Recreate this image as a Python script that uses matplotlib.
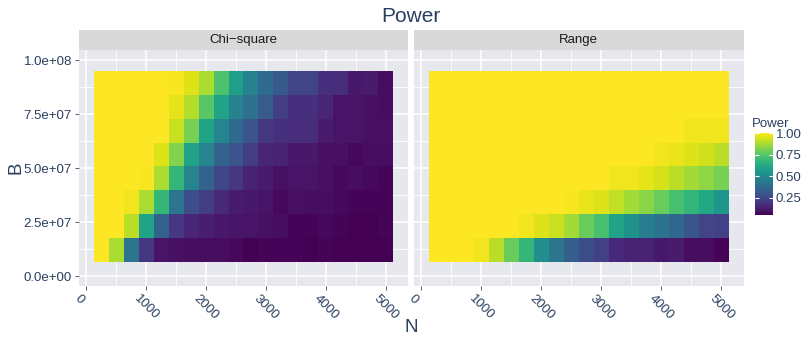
import numpy as np
import matplotlib
matplotlib.use('Agg')
import matplotlib.pyplot as plt
from matplotlib.ticker import MultipleLocator, FixedLocator

plt.rcParams['font.family'] = ['Liberation Sans', 'DejaVu Sans']

# N (sample size) and B values of the tile centres
N = [250, 500, 750, 1000, 1250, 1500, 1750, 2000, 2250, 2500,
     2750, 3000, 3250, 3500, 3750, 4000, 4250, 4500, 4750, 5000]
B = [1.20e7, 2.31e7, 3.42e7, 4.53e7, 5.64e7, 6.75e7, 7.86e7, 8.97e7]

# power, rows from lowest B to highest B
chi_power = [
    [1.0, 0.88, 0.42, 0.20, 0.10, 0.09, 0.08, 0.08, 0.08, 0.07, 0.05, 0.06, 0.06, 0.06, 0.05, 0.06, 0.05, 0.05, 0.05, 0.05],
    [1.0, 1.0, 0.90, 0.60, 0.35, 0.20, 0.15, 0.13, 0.11, 0.10, 0.10, 0.09, 0.08, 0.06, 0.06, 0.07, 0.06, 0.05, 0.05, 0.06],
    [1.0, 1.0, 0.98, 0.88, 0.68, 0.42, 0.28, 0.22, 0.16, 0.12, 0.11, 0.10, 0.07, 0.09, 0.08, 0.08, 0.07, 0.06, 0.06, 0.06],
    [1.0, 1.0, 1.0, 0.99, 0.88, 0.68, 0.48, 0.35, 0.25, 0.20, 0.14, 0.12, 0.09, 0.10, 0.10, 0.09, 0.07, 0.08, 0.07, 0.06],
    [1.0, 1.0, 1.0, 1.0, 0.95, 0.82, 0.60, 0.48, 0.35, 0.30, 0.22, 0.15, 0.14, 0.11, 0.11, 0.09, 0.09, 0.07, 0.08, 0.08],
    [1.0, 1.0, 1.0, 1.0, 1.0, 0.92, 0.80, 0.60, 0.48, 0.38, 0.30, 0.20, 0.18, 0.17, 0.17, 0.12, 0.10, 0.10, 0.09, 0.09],
    [1.0, 1.0, 1.0, 1.0, 1.0, 0.96, 0.89, 0.75, 0.60, 0.47, 0.40, 0.32, 0.22, 0.18, 0.18, 0.15, 0.10, 0.10, 0.09, 0.08],
    [1.0, 1.0, 1.0, 1.0, 1.0, 0.99, 0.95, 0.88, 0.73, 0.58, 0.47, 0.38, 0.31, 0.25, 0.24, 0.18, 0.17, 0.11, 0.12, 0.08],
]
range_power = [
    [1.0, 1.0, 1.0, 0.98, 0.90, 0.78, 0.68, 0.52, 0.42, 0.33, 0.27, 0.23, 0.16, 0.14, 0.14, 0.11, 0.12, 0.08, 0.08, 0.06],
    [1.0, 1.0, 1.0, 1.0, 1.0, 1.0, 0.98, 0.95, 0.92, 0.87, 0.78, 0.72, 0.60, 0.53, 0.45, 0.41, 0.36, 0.30, 0.24, 0.23],
    [1.0, 1.0, 1.0, 1.0, 1.0, 1.0, 1.0, 1.0, 1.0, 0.99, 0.97, 0.95, 0.91, 0.87, 0.83, 0.78, 0.72, 0.67, 0.62, 0.55],
    [1.0, 1.0, 1.0, 1.0, 1.0, 1.0, 1.0, 1.0, 1.0, 1.0, 1.0, 1.0, 0.98, 0.98, 0.96, 0.94, 0.90, 0.87, 0.84, 0.80],
    [1.0, 1.0, 1.0, 1.0, 1.0, 1.0, 1.0, 1.0, 1.0, 1.0, 1.0, 1.0, 1.0, 1.0, 1.0, 0.98, 0.97, 0.95, 0.93, 0.90],
    [1.0, 1.0, 1.0, 1.0, 1.0, 1.0, 1.0, 1.0, 1.0, 1.0, 1.0, 1.0, 1.0, 1.0, 1.0, 1.0, 1.0, 0.98, 0.98, 0.98],
    [1.0] * 20,
    [1.0] * 20,
]
panels = ['Chi\u2212square', 'Range']
y_ticks = [0, 2.5e7, 5e7, 7.5e7, 1e8]
y_labels = ['0.0e+00', '2.5e+07', '5.0e+07', '7.5e+07', '1.0e+08']
x_ticks = [0, 1000, 2000, 3000, 4000, 5000]

txt = '#2a3f5f'
W, H = 804, 337
fig = plt.figure(figsize=(W / 100, H / 100), dpi=100)


def box(x0, y0, x1, y1):
    # pixel box (top-left origin) -> figure fraction
    return [x0 / W, 1 - y1 / H, (x1 - x0) / W, (y1 - y0) / H]


frames = [(79, 408), (413.7, 744)]
mesh = None
for i, (name, z) in enumerate(zip(panels, [chi_power, range_power])):
    x0, x1 = frames[i]
    ax = fig.add_axes(box(x0, 50, x1, 286))
    ax.set_facecolor('#e6e8ee')
    mesh = ax.pcolormesh(N, B, np.array(z), shading='nearest', cmap='viridis',
                         vmin=0.05, vmax=1.0, zorder=2)
    ax.set_xlim(-125, 5375)
    ax.set_ylim(-4.5e6, 1.048e8)
    ax.xaxis.set_major_locator(FixedLocator(x_ticks))
    ax.xaxis.set_minor_locator(MultipleLocator(500))
    ax.yaxis.set_major_locator(FixedLocator(y_ticks))
    ax.yaxis.set_minor_locator(MultipleLocator(1.25e7))
    ax.grid(which='major', color='white', lw=1.1, zorder=1)
    ax.grid(which='minor', color='white', lw=0.6, zorder=1)
    ax.set_axisbelow(True)
    for s in ax.spines.values():
        s.set_visible(False)
    ax.tick_params(which='minor', length=0)
    ax.tick_params(which='major', length=3, width=0.6, color='#444444',
                   labelcolor=txt, labelsize=9.5, pad=2)
    ax.set_xticks(x_ticks)
    ax.set_xticklabels([str(v) for v in x_ticks], rotation=-45, ha='left',
                       va='top', rotation_mode='anchor')
    for lab in ax.get_xticklabels():
        lab.set_transform(lab.get_transform() +
                          matplotlib.transforms.ScaledTranslation(-6 / 100, 0, fig.dpi_scale_trans))
    if i == 0:
        ax.set_yticklabels(y_labels)
    else:
        ax.tick_params(axis='y', length=0, labelleft=False)

    # facet strip
    sax = fig.add_axes(box(x0, 30, x1, 50))
    sax.set_facecolor('#d9d9d9')
    sax.set_xticks([])
    sax.set_yticks([])
    for s in sax.spines.values():
        s.set_visible(False)
    sax.text(0.5, 0.5, name, ha='center', va='center', fontsize=9.5,
             color='#1a1a1a', transform=sax.transAxes)

fig.text(411 / W, 1 - 17 / H, 'Power', ha='center', va='center', fontsize=15, color=txt)
fig.text(411 / W, 1 - 328 / H, 'N', ha='center', va='center', fontsize=13.5, color=txt)
fig.text(16 / W, 1 - 168 / H, 'B', ha='center', va='center', fontsize=13.5,
         color=txt, rotation=90)

# colour bar
cax = fig.add_axes(box(755, 133, 773, 215))
cb = fig.colorbar(mesh, cax=cax, ticks=[0.25, 0.5, 0.75, 1.0])
cb.outline.set_visible(False)
cb.ax.set_yticklabels(['0.25', '0.50', '0.75', '1.00'])
cb.ax.tick_params(direction='in', length=3, width=0.8, color='white',
                  labelcolor=txt, labelsize=9.5, pad=2, left=True, right=True)
fig.text(752 / W, 1 - 124 / H, 'Power', ha='left', va='center', fontsize=9.5, color=txt)

fig.savefig('out.png', dpi=100)
